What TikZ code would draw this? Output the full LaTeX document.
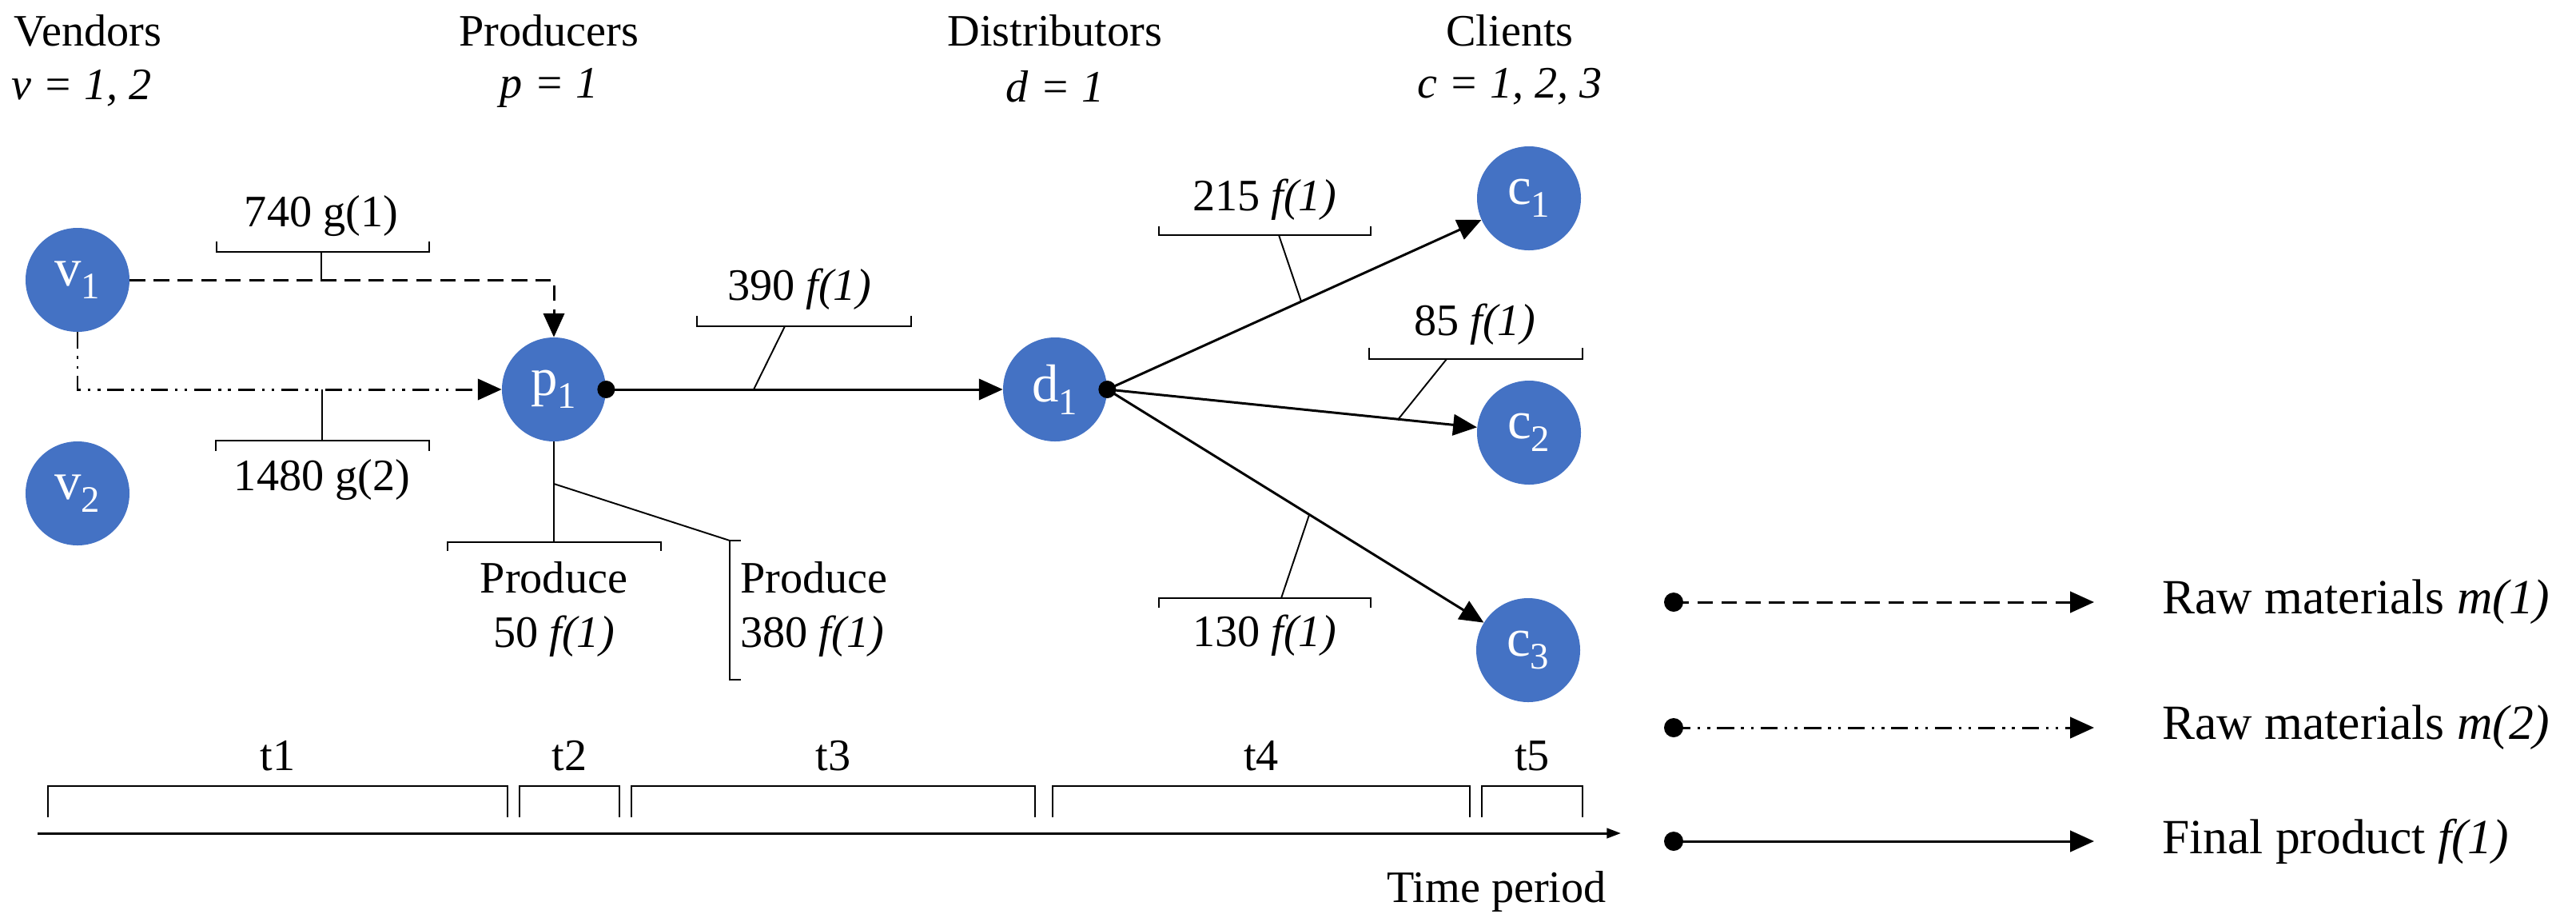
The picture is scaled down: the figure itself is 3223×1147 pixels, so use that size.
\documentclass[tikz,border=0pt]{standalone}
\usepackage{fontspec}
\setmainfont{Liberation Serif}
\usetikzlibrary{arrows.meta,calc}
\definecolor{nb}{HTML}{4472C4}
\begin{document}
\begin{tikzpicture}[x=0.02cm,y=-0.02cm, font=\fontsize{32}{39}\selectfont,
 nd/.style={circle,fill=nb,text=white,minimum size=74pt,inner sep=0pt,font=\fontsize{38}{44}\selectfont},
 lbl/.style={inner sep=0pt,align=center},
 brk/.style={line width=1.1pt},
 tbrk/.style={line width=1.4pt},
 flow/.style={line width=1.7pt,-{Triangle[length=17pt,width=15pt]}},
 dsh/.style={dash pattern=on 11pt off 6pt},
 ddot/.style={dash pattern=on 12pt off 5pt on 2pt off 5pt on 2pt off 5pt}]
\useasboundingbox (0,0) rectangle (3223,1147);
% headers
\node[lbl] (hv) at (110,38) {Vendors};
\node[lbl] (hv2) at (102,110) {\textit{v = 1, 2}};
\node[lbl] (hp) at (687,38) {Producers};
\node[lbl] (hp2) at (687,110) {\textit{p = 1}};
\node[lbl] (hd) at (1320,38) {Distributors};
\node[lbl] (hd2) at (1320,108) {\textit{d = 1}};
\node[lbl] (hc) at (1889,38) {Clients};
\node[lbl] (hc2) at (1889,108) {\textit{c = 1, 2, 3}};
% nodes
\node[nd] (v1) at (97,350) {v\textsubscript{1}};
\node[nd] (v2) at (97,617) {v\textsubscript{2}};
\node[nd] (p1) at (693,487) {p\textsubscript{1}};
\node[nd] (d1) at (1320,487) {d\textsubscript{1}};
\node[nd] (c1) at (1913,248) {c\textsubscript{1}};
\node[nd] (c2) at (1913,541) {c\textsubscript{2}};
\node[nd] (c3) at (1912,813) {c\textsubscript{3}};
% flows
\draw[flow,dsh] (v1.east) -| (p1.north);
\draw[flow,ddot] (v1.south) |- (p1.west);
\draw[flow] (p1.east) -- (d1.west);
\draw[flow] (d1.east) -- (c1);
\draw[flow] (d1.east) -- (c2);
\draw[flow] (d1.east) -- (c3);
\fill (p1.east) circle (11);
\fill (d1.east) circle (11);
% flow labels
\draw[brk] (271,302) -- (271,315) -- (537,315) -- (537,302);
\draw[brk] (402,315) -- (402,350);
\node[lbl] (l740) at (402,270) {740 g(1)};
\draw[brk] (270,564) -- (270,551) -- (537,551) -- (537,564);
\draw[brk] (403,487) -- (403,551);
\node[lbl] (l1480) at (403,600) {1480 g(2)};
\draw[brk] (872,395) -- (872,408) -- (1140,408) -- (1140,395);
\draw[brk] (982,408) -- (943,487);
\node[lbl] (l390) at (1000,362) {390 \textit{f(1)}};
\coordinate (s215) at ($(d1.east)!0.46!(c1)$);
\draw[brk] (1450,283) -- (1450,294) -- (1715,294) -- (1715,283);
\draw[brk] (1600,294) -- (s215);
\node[lbl] (l215) at (1582,250) {215 \textit{f(1)}};
\coordinate (s85) at ($(d1.east)!0.69!(c2)$);
\draw[brk] (1713,435) -- (1713,449) -- (1980,449) -- (1980,435);
\draw[brk] (1810,449) -- (s85);
\node[lbl] (l85) at (1845,406) {85 \textit{f(1)}};
\coordinate (s130) at ($(d1.east)!0.48!(c3)$);
\draw[brk] (1450,760) -- (1450,748) -- (1715,748) -- (1715,760);
\draw[brk] (1603,748) -- (s130);
\node[lbl] (l130) at (1582,795) {130 \textit{f(1)}};
% produce
\draw[brk] (560,689) -- (560,678) -- (827,678) -- (827,689);
\draw[brk] (p1.south) -- (693,678);
\node[lbl] (pr50) at (693,762) {Produce\\50 \textit{f(1)}};
\coordinate (pj) at (693,605);
\draw[brk] (pj) -- (913,676);
\draw[brk] (927,676) -- (913,676) -- (913,850) -- (927,850);
\node[lbl,anchor=west,align=left] (pr380) at (926,762) {Produce\\380 \textit{f(1)}};
% time
\foreach \a/\b/\t in {60/635/t1,650/775/t2,790/1295/t3,1317/1839/t4,1854/1980/t5}{
  \draw[tbrk] (\a,1022) -- (\a,983) -- (\b,983) -- (\b,1022);
  \node[lbl] at ({(\a+\b)/2},945) {\t};
}
\coordinate (ta) at (47,1042);
\coordinate (tb) at (2028,1042);
\draw[line width=1.7pt,-{Triangle[length=10pt,width=7pt]}] (ta) -- (tb);
\node[lbl,anchor=east] (tp) at (2010,1115) {Time period};
% legend
\foreach \y/\s/\txt in {753/dsh/{Raw materials \textit{m(1)}},910/ddot/{Raw materials \textit{m(2)}},1052/solid/{Final product \textit{f(1)}}}{
  \draw[flow,\s] (2094,\y) -- (2620,\y);
  \fill (2094,\y) circle (12);
  \node[lbl,anchor=west,font=\fontsize{35}{40}\selectfont] at (2705,\y) {\txt};
}
\end{tikzpicture}
\end{document}
